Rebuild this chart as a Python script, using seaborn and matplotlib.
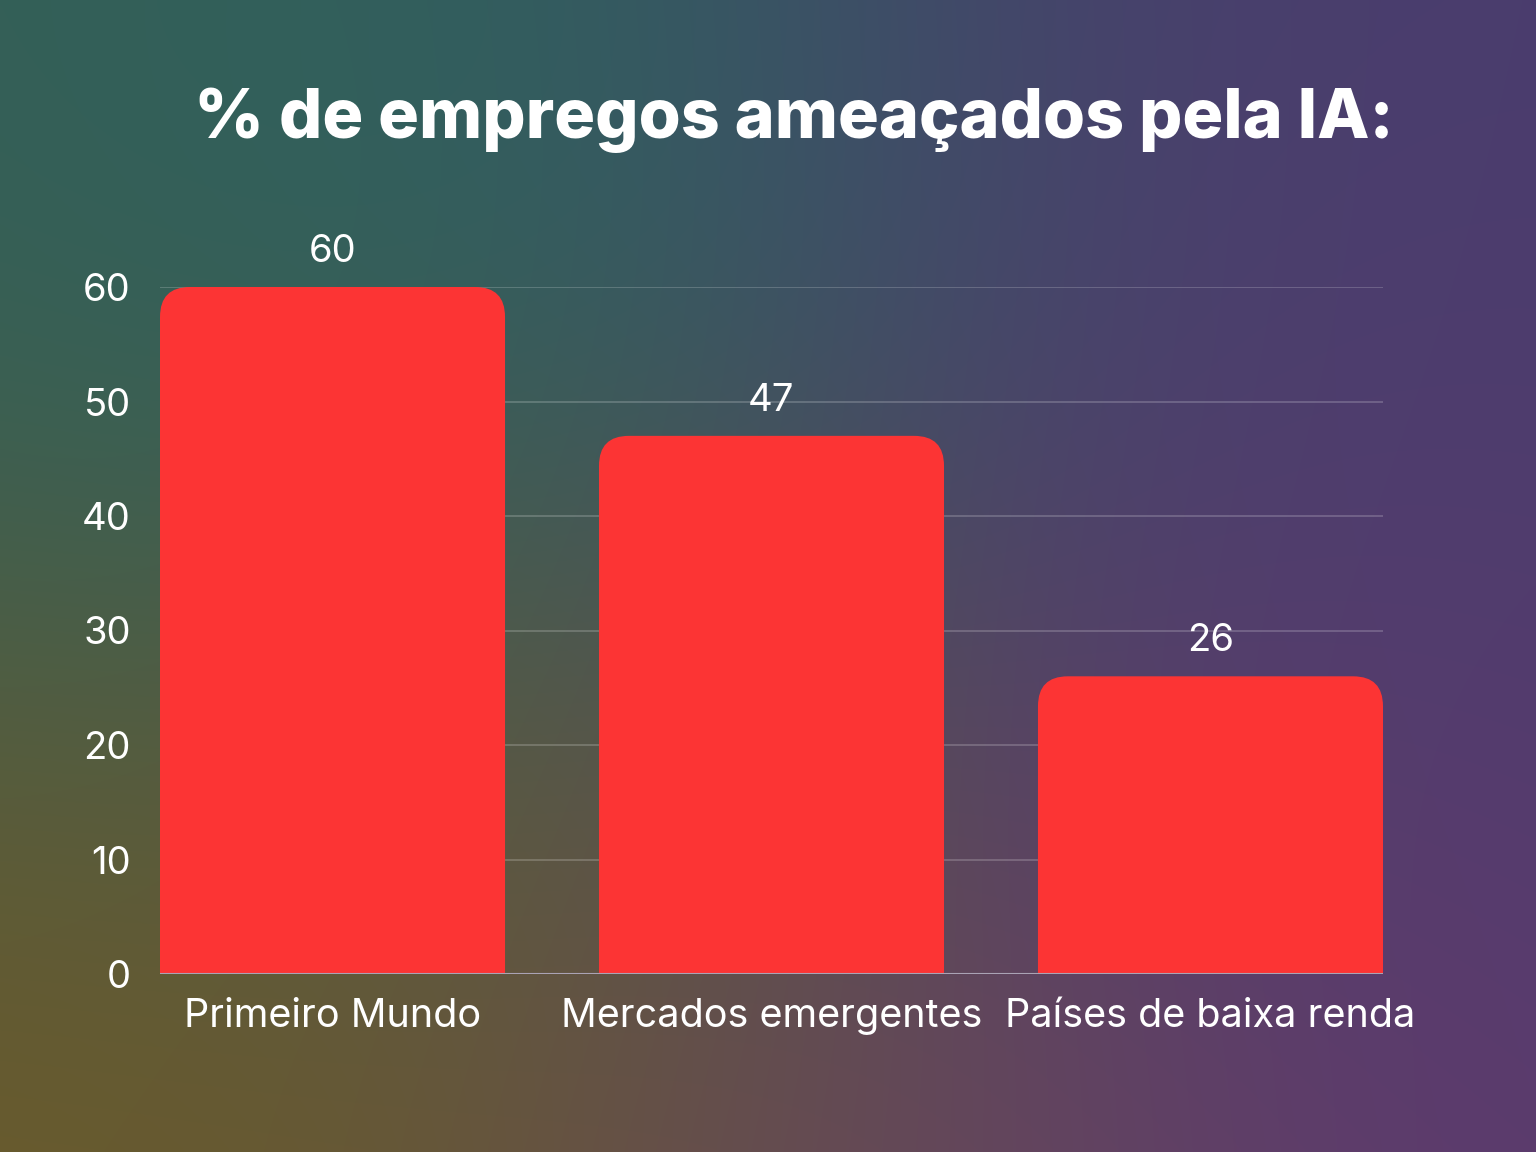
import matplotlib
matplotlib.use("Agg")
import matplotlib.pyplot as plt
import numpy as np
import pandas as pd
import seaborn as sns
from matplotlib.colors import to_rgb
from matplotlib.patches import FancyBboxPatch

categories = ["Primeiro Mundo", "Mercados emergentes", "Países de baixa renda"]
values = [60, 47, 26]
yticks = [0, 10, 20, 30, 40, 50, 60]
title = "% de empregos ameaçados pela IA:"

BAR_COLOR = "#fc3434"
W, H = 1536, 1152

sns.set_theme(style="white")
plt.rcParams["font.family"] = ["Inter", "DejaVu Sans"]

fig = plt.figure(figsize=(W / 100, H / 100), dpi=100)

# soft gradient background built from a few colour blobs
bg_ax = fig.add_axes([0, 0, 1, 1], zorder=-10)
yy, xx = np.mgrid[0:H:4, 0:W:4]
blobs = [((0, 0), "#355f56", 480), ((520, 330), "#276662", 360),
         ((120, 1120), "#6c5a2a", 420), ((580, 880), "#6b5a30", 280),
         ((1450, 150), "#473d6d", 500), ((1350, 600), "#533b6f", 450),
         ((1220, 1040), "#643a6d", 360), ((880, 1150), "#6a4c55", 240)]
acc = np.zeros(xx.shape + (3,))
wsum = np.zeros(xx.shape)
for (cx, cy), col, s in blobs:
    w = np.exp(-((xx - cx) ** 2 + (yy - cy) ** 2) / (2 * s ** 2))
    acc += w[..., None] * np.array(to_rgb(col))
    wsum += w
bg_ax.imshow(acc / wsum[..., None], aspect="auto", interpolation="bicubic")
bg_ax.axis("off")

ax = fig.add_axes([160 / W, 1 - 974 / H, (1383 - 160) / W, (974 - 287) / H])
ax.patch.set_alpha(0)
df = pd.DataFrame({"cat": categories, "val": values})
sns.barplot(data=df, x="cat", y="val", color=BAR_COLOR, saturation=1, width=0.786, ax=ax)

# swap plain bars for round-topped ones
for p in list(ax.patches):
    x0, w, h = p.get_x(), p.get_width(), p.get_height()
    p.remove()
    ax.add_patch(FancyBboxPatch((x0, -6), w, h + 6,
                                boxstyle="round,pad=0,rounding_size=0.068",
                                mutation_aspect=38.5, fc=BAR_COLOR, ec="none", zorder=3))
    ax.text(x0 + w / 2, h + 1.5, str(h if h % 1 else int(h)), ha="center", va="bottom",
            color="white", fontsize=27.5)

ax.set_xlim(-0.393, 2.393)
ax.set_ylim(0, 60)
ax.set_yticks(yticks)
ax.yaxis.grid(True, color="white", alpha=0.22, lw=1.2)
ax.set_axisbelow(True)
ax.axhline(0, color="#aaa3b5", lw=1.5, zorder=4)
for s in ax.spines.values():
    s.set_visible(False)
ax.tick_params(axis="y", colors="white", labelsize=27.5, length=0, pad=21)
ax.tick_params(axis="x", colors="white", labelsize=28.5, length=0, pad=17)
ax.set_xlabel("")
ax.set_ylabel("")

fig.text(0.517, 1 - 120 / H, title, ha="center", va="center", color="white",
         fontsize=49, fontweight="heavy")

fig.savefig("out.png", dpi=100)
